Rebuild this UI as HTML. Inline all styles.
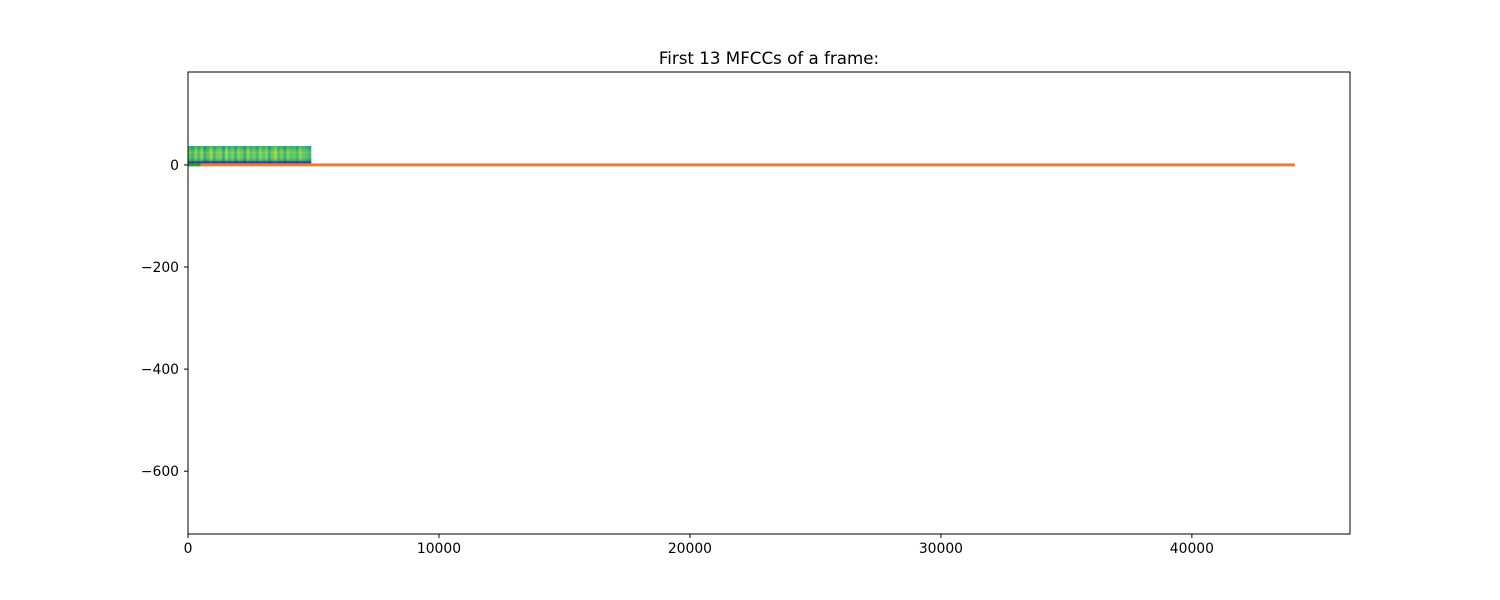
<!DOCTYPE html>
<html><head><meta charset="utf-8"><style>
body{margin:0;background:#fff;font-family:"DejaVu Sans","Liberation Sans",sans-serif;}
svg{display:block}
</style></head><body>
<svg width="1500" height="600" xmlns="http://www.w3.org/2000/svg" font-family="DejaVu Sans, Liberation Sans, sans-serif">
<rect width="1500" height="600" fill="#fff"/>
<text x="769" y="64" font-size="16.7" text-anchor="middle">First 13 MFCCs of a frame:</text>
<g id="plot"></g>
<g id="axes"></g>
<rect x="188" y="72" width="1162" height="462" fill="none" stroke="#000" stroke-width="1"/>
</svg>
<script>
const xTicks=[0,10000,20000,30000,40000];
const yTicks=[0,-200,-400,-600];
const rowValues=[0.15,0.2,0.25,0.6,0.65,0.7,0.72,0.68,0.75,0.7,0.66,0.62,0.58];
const colOffsets=[0.05,-0.05,0.1,0,0.12,-0.08,0.03,0.15,-0.02,0.08,0.1,-0.06,0.14,0.02,0.09,-0.04,0.11,0.06,-0.07,0.13,0.01,0.08,-0.03,0.12,0.04,0.1,-0.05,0.07,0.15,0,0.09,-0.06,0.11,0.03,0.06,-0.02,0.13,0.05,0.02,-0.04];
const imgXRange=[0,4900];
const imgYRange=[0,37];
const greenLine=[[0,0],[500,0]];
const orangeLine=[[500,0],[44100,0]];
const X0=188,X1=1350,Y0=72,Y1=534,xMin=0,xMax=46300,yMin=-723,yMax=182;
const sx=v=>X0+(v-xMin)/(xMax-xMin)*(X1-X0);
const sy=v=>Y1-(v-yMin)/(yMax-yMin)*(Y1-Y0);
const NS="http://www.w3.org/2000/svg";
const plot=document.getElementById('plot'),axes=document.getElementById('axes');
function viridis(t){t=Math.max(0,Math.min(1,t));
const s=[[68,1,84],[59,82,139],[33,145,140],[94,201,98],[253,231,37]];
const f=t*4,i=Math.min(3,Math.floor(f)),u=f-i;
return 'rgb('+s[i].map((c,k)=>Math.round(c+(s[i+1][k]-c)*u)).join(',')+')';}
const nR=rowValues.length,nC=colOffsets.length;
const dx=(imgXRange[1]-imgXRange[0])/nC,dy=(imgYRange[1]-imgYRange[0])/nR;
for(let r=0;r<nR;r++)for(let c=0;c<nC;c++){
const x=sx(imgXRange[0]+c*dx),x2=sx(imgXRange[0]+(c+1)*dx);
const y=sy(imgYRange[0]+(r+1)*dy),y2=sy(imgYRange[0]+r*dy);
const e=document.createElementNS(NS,'rect');
e.setAttribute('x',x);e.setAttribute('y',y);e.setAttribute('width',x2-x+0.3);e.setAttribute('height',y2-y+0.3);
e.setAttribute('fill',viridis(rowValues[r]+colOffsets[c]*(r>=3?1:0.3)));


plot.appendChild(e);}
function line(pts,col,name){const p=document.createElementNS(NS,'polyline');
p.setAttribute('points',pts.map(q=>sx(q[0])+','+sy(q[1])).join(' '));
p.setAttribute('stroke',col);p.setAttribute('stroke-width','3');p.setAttribute('fill','none');


plot.appendChild(p);}
line(greenLine,'#2ca02c','green-series');
line(orangeLine,'#f07c3a','orange-series');
xTicks.forEach(v=>{const x=sx(v);
const t=document.createElementNS(NS,'line');t.setAttribute('x1',x);t.setAttribute('x2',x);t.setAttribute('y1',Y1);t.setAttribute('y2',Y1+4);t.setAttribute('stroke','#000');


axes.appendChild(t);
const l=document.createElementNS(NS,'text');l.setAttribute('x',x);l.setAttribute('y',Y1+19);l.setAttribute('font-size','13.9');l.setAttribute('text-anchor','middle');l.textContent=v;


axes.appendChild(l);});
yTicks.forEach(v=>{const y=sy(v);
const t=document.createElementNS(NS,'line');t.setAttribute('x1',X0-4);t.setAttribute('x2',X0);t.setAttribute('y1',y);t.setAttribute('y2',y);t.setAttribute('stroke','#000');


axes.appendChild(t);
const l=document.createElementNS(NS,'text');l.setAttribute('x',X0-9);l.setAttribute('y',y+5);l.setAttribute('font-size','13.9');l.setAttribute('text-anchor','end');l.textContent=v<0?'\u2212'+(-v):v;


axes.appendChild(l);});
</script>
</body></html>
